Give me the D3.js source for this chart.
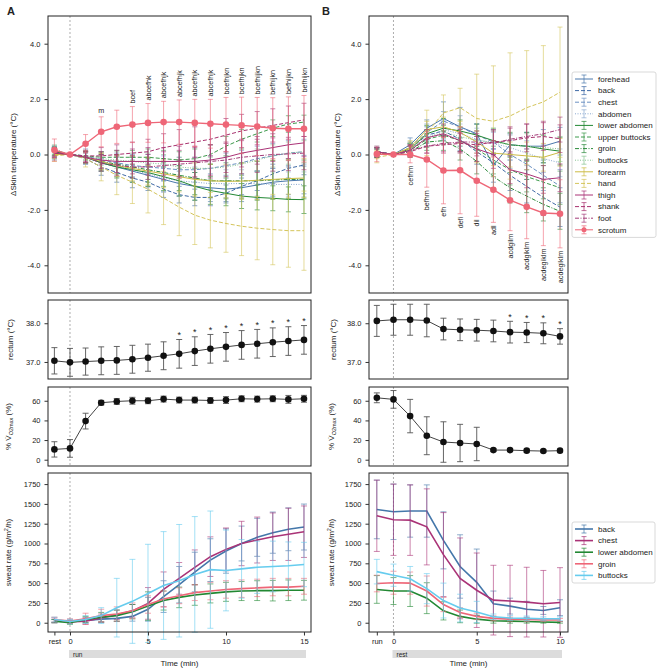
<!DOCTYPE html>
<html>
<head>
<meta charset="utf-8">
<script src="https://cdn.jsdelivr.net/npm/d3@7"></script>
<style>
  body { margin: 0; background: #fff; }
  svg text { font-family: "Liberation Sans", Arial, sans-serif; fill: #222; }
</style>
</head>
<body>
<svg id="fig" width="661" height="670"></svg>
<script>
// ---------- data ----------
const timesA = [-1, 0, 1, 2, 3, 4, 5, 6, 7, 8, 9, 10, 11, 12, 13, 14, 15];
const timesB = [-1, 0, 1, 2, 3, 4, 5, 6, 7, 8, 9, 10];
const tickValsA = [-1, 0, 5, 10, 15];
const tickLabelsA = ["rest", "0", "5", "10", "15"];
const tickValsB = [-1, 0, 5, 10];
const tickLabelsB = ["run", "0", "5", "10"];

const siteNames = ["forehead", "back", "chest", "abdomen", "lower abdomen", "upper buttocks",
  "groin", "buttocks", "forearm", "hand", "thigh", "shank", "foot", "scrotum"];

// skin temperature change (°C), panel A (rest, 0..15 min of running)
const skinMeanA = [
  [0.05, 0, -0.1, -0.3, -0.45, -0.6, -0.75, -0.9, -1.05, -1.15, -1.2, -1.25, -1.2, -1.1, -1.0, -0.95, -0.92],
  [0.05, 0, -0.15, -0.45, -0.65, -0.85, -1.0, -1.25, -1.45, -1.55, -1.55, -1.4, -1.15, -0.95, -0.7, -0.5, -0.38],
  [0.1, 0, -0.05, -0.2, -0.3, -0.4, -0.45, -0.5, -0.55, -0.55, -0.5, -0.4, -0.3, -0.15, -0.05, 0.05, 0.1],
  [0.05, 0, -0.1, -0.25, -0.4, -0.55, -0.7, -0.85, -0.95, -1.0, -1.05, -1.05, -1.05, -1.05, -1.08, -1.08, -1.08],
  [0.1, 0, -0.1, -0.3, -0.45, -0.55, -0.65, -0.8, -0.95, -1.15, -1.3, -1.4, -1.5, -1.55, -1.58, -1.62, -1.63],
  [0.15, 0, -0.05, -0.1, -0.1, -0.1, -0.1, -0.15, -0.2, -0.15, 0.0, 0.3, 0.55, 0.75, 0.95, 1.1, 1.17],
  [0.1, 0, -0.1, -0.25, -0.35, -0.45, -0.55, -0.65, -0.75, -0.85, -0.95, -0.95, -0.95, -0.95, -0.92, -0.9, -0.9],
  [0.2, 0, -0.05, -0.15, -0.2, -0.25, -0.3, -0.35, -0.45, -0.5, -0.5, -0.45, -0.35, -0.2, -0.05, 0.05, 0.1],
  [0.0, 0, -0.1, -0.25, -0.4, -0.5, -0.6, -0.7, -0.8, -0.9, -0.95, -0.97, -0.96, -0.93, -0.9, -0.87, -0.85],
  [-0.05, 0, -0.15, -0.45, -0.75, -1.0, -1.25, -1.57, -1.9, -2.19, -2.37, -2.49, -2.59, -2.66, -2.71, -2.75, -2.75],
  [0.05, 0, -0.1, -0.2, -0.25, -0.25, -0.25, -0.25, -0.25, -0.25, -0.2, -0.1, 0.05, 0.15, 0.25, 0.35, 0.42],
  [0.05, 0, -0.05, -0.05, 0.0, 0.05, 0.1, 0.25, 0.35, 0.45, 0.55, 0.7, 0.85, 0.95, 1.05, 1.15, 1.25],
  [0.1, 0, -0.1, -0.3, -0.4, -0.45, -0.45, -0.4, -0.35, -0.3, -0.25, -0.2, -0.1, -0.05, 0.0, 0.02, 0.05],
  [0.16, 0, 0.39, 0.82, 1.0, 1.08, 1.14, 1.17, 1.17, 1.14, 1.11, 1.08, 1.05, 1.01, 0.95, 0.93, 0.93]
];
const skinSdA = [
  [0.25, 0, 0.2, 0.3, 0.35, 0.4, 0.4, 0.45, 0.45, 0.5, 0.5, 0.5, 0.5, 0.5, 0.5, 0.5, 0.5],
  [0.2, 0, 0.2, 0.3, 0.35, 0.35, 0.3, 0.3, 0.3, 0.3, 0.3, 0.3, 0.3, 0.35, 0.35, 0.35, 0.35],
  [0.2, 0, 0.25, 0.3, 0.35, 0.4, 0.45, 0.45, 0.45, 0.45, 0.45, 0.45, 0.45, 0.45, 0.45, 0.45, 0.45],
  [0.2, 0, 0.25, 0.35, 0.4, 0.45, 0.5, 0.5, 0.55, 0.55, 0.55, 0.5, 0.5, 0.45, 0.45, 0.45, 0.45],
  [0.15, 0, 0.2, 0.3, 0.4, 0.45, 0.5, 0.5, 0.55, 0.5, 0.5, 0.45, 0.45, 0.45, 0.45, 0.45, 0.5],
  [0.15, 0, 0.15, 0.2, 0.25, 0.25, 0.3, 0.3, 0.3, 0.35, 0.35, 0.35, 0.35, 0.3, 0.3, 0.3, 0.25],
  [0.15, 0, 0.2, 0.3, 0.35, 0.4, 0.45, 0.5, 0.55, 0.6, 0.6, 0.65, 0.65, 0.7, 0.7, 0.7, 0.7],
  [0.15, 0, 0.15, 0.25, 0.3, 0.3, 0.35, 0.35, 0.35, 0.35, 0.4, 0.4, 0.4, 0.4, 0.4, 0.4, 0.4],
  [0.15, 0, 0.2, 0.3, 0.4, 0.45, 0.5, 0.5, 0.55, 0.6, 0.6, 0.6, 0.65, 0.7, 0.7, 0.7, 0.7],
  [0.2, 0, 0.3, 0.5, 0.7, 0.77, 0.86, 0.96, 1.03, 1.06, 1.0, 1.04, 1.06, 1.14, 1.27, 1.32, 1.43],
  [0.15, 0, 0.2, 0.3, 0.4, 0.45, 0.5, 0.5, 0.55, 0.55, 0.55, 0.55, 0.5, 0.5, 0.5, 0.5, 0.5],
  [0.15, 0, 0.2, 0.3, 0.35, 0.4, 0.45, 0.5, 0.55, 0.55, 0.6, 0.6, 0.6, 0.6, 0.6, 0.6, 0.6],
  [0.15, 0, 0.2, 0.3, 0.35, 0.4, 0.45, 0.5, 0.5, 0.55, 0.6, 0.6, 0.6, 0.6, 0.6, 0.6, 0.6],
  [0.4, 0, 0.33, 0.54, 0.6, 0.65, 0.7, 0.75, 0.8, 0.85, 0.88, 0.98, 1.02, 1.05, 1.1, 1.15, 1.2]
];
const sigLabelsA = ["", "", "", "m", "", "bcef", "abcefhk", "abcefhjk", "abcefhjk", "abcefhjk",
  "abcefhjk", "bcefhjkn", "bcefhjkn", "bcefhijkn", "befhijkn", "befhijkn", "befhijkn"];

// skin temperature change (°C), panel B (end of run, 0..10 min of rest)
const skinMeanB = [
  [0.1, 0, 0.35, 0.95, 1.3, 1.0, 0.75, -0.4, 0.35, 0.3, 0.3, 0.48],
  [0.1, 0, 0.2, 0.7, 0.85, 0.55, 0.1, -0.3, -0.75, -1.15, -1.55, -1.9],
  [0.1, 0, 0.25, 0.8, 1.2, 1.0, 0.7, 0.45, 0.0, -0.35, -0.75, -1.14],
  [0.05, 0, 0.2, 0.6, 0.9, 0.75, 0.55, 0.4, 0.25, 0.05, -0.15, -0.3],
  [0.1, 0, 0.2, 0.75, 0.95, 0.85, 0.7, 0.5, 0.35, 0.3, 0.2, 0.12],
  [0.05, 0, 0.15, 0.55, 0.7, 0.5, 0.2, -0.2, -0.55, -0.8, -1.0, -1.2],
  [0.05, 0, 0.1, 0.45, 0.5, 0.2, -0.25, -0.8, -1.2, -1.5, -1.8, -2.05],
  [0.1, 0, 0.2, 0.6, 0.8, 0.65, 0.5, 0.45, 0.35, 0.3, 0.25, 0.2],
  [0.0, 0, 0.25, 0.9, 1.0, 0.8, 0.45, 0.05, 0.0, -0.05, -0.1, 0.08],
  [-0.1, 0, 0.2, 0.78, 1.5, 1.69, 1.3, 1.2, 1.39, 1.69, 1.9, 2.25],
  [0.1, 0, 0.15, 0.6, 0.75, 0.5, 0.2, 0.0, -0.55, -0.7, -0.9, -0.84],
  [0.05, 0, 0.1, 0.3, 0.35, 0.4, 0.35, 0.45, 0.5, 0.6, 0.65, 0.57],
  [0.1, 0, 0.15, 0.3, 0.4, 0.45, 0.45, 0.4, 0.55, 0.65, 0.75, 0.9],
  [0.02, 0, 0, -0.18, -0.58, -0.57, -0.95, -1.27, -1.65, -1.89, -2.11, -2.14]
];
const skinSdB = [
  [0.2, 0, 0.25, 0.3, 0.6, 0.7, 0.35, 0.6, 0.4, 0.5, 0.6, 0.5],
  [0.15, 0, 0.2, 0.3, 0.35, 0.4, 0.45, 0.5, 0.55, 0.6, 0.65, 0.7],
  [0.15, 0, 0.2, 0.3, 0.35, 0.4, 0.4, 0.45, 0.5, 0.55, 0.55, 0.6],
  [0.15, 0, 0.2, 0.3, 0.35, 0.35, 0.4, 0.4, 0.45, 0.45, 0.5, 0.5],
  [0.15, 0, 0.2, 0.3, 0.35, 0.4, 0.4, 0.45, 0.45, 0.5, 0.5, 0.5],
  [0.15, 0, 0.2, 0.3, 0.35, 0.4, 0.45, 0.5, 0.55, 0.55, 0.6, 0.6],
  [0.15, 0, 0.2, 0.3, 0.35, 0.4, 0.45, 0.5, 0.55, 0.6, 0.6, 0.65],
  [0.15, 0, 0.2, 0.3, 0.3, 0.35, 0.35, 0.4, 0.4, 0.45, 0.45, 0.45],
  [0.15, 0, 0.2, 0.3, 0.35, 0.4, 0.4, 0.45, 0.45, 0.5, 0.5, 0.5],
  [0.2, 0, 0.3, 0.82, 0.65, 0.7, 1.6, 2.0, 2.28, 2.06, 2.03, 2.35],
  [0.15, 0, 0.2, 0.3, 0.35, 0.4, 0.45, 0.5, 0.5, 0.5, 0.5, 0.5],
  [0.15, 0, 0.2, 0.25, 0.3, 0.35, 0.4, 0.45, 0.45, 0.5, 0.5, 0.5],
  [0.15, 0, 0.2, 0.25, 0.3, 0.35, 0.4, 0.45, 0.45, 0.45, 0.45, 0.45],
  [0.28, 0, 0.3, 1.0, 1.2, 1.57, 1.28, 1.18, 1.1, 1.15, 1.18, 1.23]
];
const sigLabelsB = ["", "", "cefhm", "befhm", "efh", "defi", "dil", "adl", "acdgilm",
  "acdgiklm", "acdegiklm", "acdegiklm"];

// rectal temperature (°C)
const rectMeanA = [37.03, 36.99, 37.01, 37.03, 37.04, 37.07, 37.11, 37.16, 37.21, 37.28, 37.34, 37.39, 37.44, 37.47, 37.51, 37.54, 37.57];
const rectSdA = [0.34, 0.36, 0.35, 0.36, 0.36, 0.36, 0.35, 0.36, 0.37, 0.37, 0.37, 0.37, 0.37, 0.37, 0.37, 0.37, 0.37];
const rectStarsA = [7, 8, 9, 10, 11, 12, 13, 14, 15];
const rectMeanB = [38.06, 38.09, 38.09, 38.07, 37.85, 37.83, 37.82, 37.8, 37.77, 37.76, 37.74, 37.66];
const rectSdB = [0.4, 0.4, 0.4, 0.42, 0.28, 0.28, 0.28, 0.28, 0.28, 0.26, 0.27, 0.2];
const rectStarsB = [7, 8, 9, 10];

// relative oxygen uptake (%VO2max)
const vo2MeanA = [10.5, 11.5, 39.3, 58, 59.3, 60, 60, 61.7, 60.7, 60.7, 60.3, 60.7, 62, 61.7, 62, 61.4, 62];
const vo2SdA = [7.8, 9, 8, 2.4, 3, 3.5, 3, 3, 3, 3, 3, 3.5, 3, 3, 3, 4, 3.5];
const vo2MeanB = [63, 61.4, 44.4, 24.4, 18, 17, 16, 9.8, 9.8, 9.2, 8.8, 9.2];
const vo2SdB = [5, 9, 17, 19.3, 20.6, 19, 17, 1.5, 1.5, 1.5, 1.2, 1.2];

// local sweat rate (g/m2/h)
const sweatSites = ["back", "chest", "lower abdomen", "groin", "buttocks"];
const sweatMeanA = [
  [20, 15, 30, 45, 55, 80, 170, 330, 480, 640, 790, 905, 1000, 1078, 1137, 1179, 1208],
  [30, 10, 20, 60, 100, 150, 244, 421, 560, 699, 834, 926, 1000, 1044, 1086, 1116, 1149],
  [20, 0, 40, 70, 90, 140, 210, 280, 320, 350, 370, 390, 400, 405, 405, 410, 410],
  [40, 20, 50, 90, 110, 150, 230, 300, 340, 380, 400, 420, 430, 440, 450, 450, 460],
  [40, 15, 40, 90, 190, 270, 370, 470, 530, 610, 670, 660, 680, 700, 710, 720, 735]
];
const sweatSdA = [
  [20, 20, 30, 40, 40, 60, 150, 200, 230, 250, 270, 280, 220, 240, 260, 270, 290],
  [30, 20, 40, 50, 60, 80, 200, 220, 200, 220, 250, 270, 280, 290, 300, 330, 325],
  [20, 20, 40, 60, 70, 90, 180, 120, 130, 130, 120, 120, 120, 125, 130, 130, 125],
  [30, 30, 70, 80, 90, 100, 110, 100, 100, 100, 110, 110, 110, 110, 110, 110, 100],
  [30, 30, 50, 100, 370, 530, 620, 680, 710, 730, 740, 510, 370, 330, 320, 300, 280]
];
const sweatMeanB = [
  [1430, 1400, 1410, 1410, 1040, 710, 510, 240, 210, 170, 155, 190],
  [1350, 1300, 1295, 1210, 860, 560, 410, 285, 275, 260, 240, 255],
  [420, 400, 400, 310, 150, 80, 45, 25, 20, 15, 10, 5],
  [495, 505, 500, 400, 230, 130, 80, 55, 45, 40, 35, 35],
  [645, 600, 555, 430, 280, 185, 135, 75, 60, 55, 50, 50]
];
const sweatSdB = [
  [370, 350, 330, 330, 360, 400, 420, 160, 100, 100, 50, 100],
  [450, 450, 445, 480, 530, 510, 470, 440, 450, 440, 420, 440],
  [175, 170, 195, 195, 115, 80, 50, 30, 25, 20, 15, 10],
  [105, 145, 140, 190, 90, 60, 40, 30, 25, 25, 20, 20],
  [155, 140, 155, 190, 220, 175, 135, 35, 30, 30, 25, 25]
];

// ---------- styles ----------
const siteColors = ["#4a78ad", "#3f6aa6", "#6a90c2", "#8aa9d0", "#228833", "#3d9a4c", "#2a8a3a", "#86c290",
  "#ccbb44", "#d4c45a", "#aa3377", "#a8326f", "#a33a78", "#ee6677"];
const siteDash = [null, "4,2", "4,2", "1,1.5", null, "4,2", "4,1.5,1,1.5", "1,1.5",
  null, "4,2", null, "4,2", "4,1.5,1,1.5", null];
const sweatColors = ["#4477aa", "#aa3377", "#228833", "#ee6677", "#66ccee"];

// ---------- layout ----------
const FONT = "Liberation Sans, Arial, sans-serif";
const svg = d3.select("#fig");

const xA = d3.scaleLinear().domain([-1.41, 15.45]).range([48, 311]);
const xB = d3.scaleLinear().domain([-1.47, 10.48]).range([369, 568]);
const ySkin = d3.scaleLinear().domain([-5, 5]).range([293, 16]);
const yRect = d3.scaleLinear().domain([36.56, 38.6]).range([379, 300]);
const yVo2 = d3.scaleLinear().domain([-6.4, 74]).range([466, 387]);
const ySweat = d3.scaleLinear().domain([-117, 1890]).range([632, 473]);

// ---------- helpers ----------
function zeroLine(x, y) {
  svg.append("line")
    .attr("x1", x(0)).attr("x2", x(0))
    .attr("y1", y.range()[1]).attr("y2", y.range()[0])
    .attr("stroke", "#999").attr("stroke-width", 0.8)
    .attr("stroke-dasharray", "2,2");
}

function frame(x, y) {
  svg.append("rect")
    .attr("x", x.range()[0]).attr("y", y.range()[1])
    .attr("width", x.range()[1] - x.range()[0])
    .attr("height", y.range()[0] - y.range()[1])
    .attr("fill", "none").attr("stroke", "#222").attr("stroke-width", 1);
}

function leftAxis(x, y, ticks, fmt) {
  const g = svg.append("g")
    .attr("transform", `translate(${ x.range()[0] },0)`)
    .call(d3.axisLeft(y).tickValues(ticks).tickFormat(fmt).tickSize(3.5).tickPadding(4));
  g.attr("font-size", 7.5).attr("font-family", FONT);
  g.select(".domain").remove();
  g.selectAll("line").attr("stroke", "#333");
}

function bottomAxis(x, y, vals, labels, barLabel) {
  const y0 = y.range()[0];
  const g = svg.append("g")
    .attr("transform", `translate(0,${ y0 })`)
    .call(d3.axisBottom(x).tickValues(vals).tickFormat((d, i) => labels[i]).tickSize(3.5).tickPadding(3));
  g.attr("font-size", 7.5).attr("font-family", FONT);
  g.select(".domain").remove();
  g.selectAll("line").attr("stroke", "#333");

  // grey phase bar under the axis
  const last = vals[vals.length - 1];
  svg.append("rect")
    .attr("x", x(0) - 1).attr("y", 650)
    .attr("width", x(last) - x(0) + 3).attr("height", 8)
    .attr("fill", "#dcdcdc");
  svg.append("text")
    .attr("x", x(0) + 3).attr("y", 656.5)
    .attr("font-size", 6.5)
    .text(barLabel);
  svg.append("text")
    .attr("x", (x.range()[0] + x.range()[1]) / 2).attr("y", 666)
    .attr("text-anchor", "middle").attr("font-size", 8)
    .text("Time (min)");
}

function yLabel(cx, y, build) {
  const t = svg.append("text")
    .attr("transform", `translate(${ cx + 3 },${ (y.range()[0] + y.range()[1]) / 2 }) rotate(-90)`)
    .attr("text-anchor", "middle").attr("font-size", 8);
  build(t);
}

function drawSeries(x, y, times, mean, sd, opt) {
  const pts = times.map((t, i) => ({ t: t, m: mean[i], s: sd[i] }));
  const bars = pts.filter(d => d.s > 0);
  const g = svg.append("g");
  const eb = g.append("g")
    .attr("stroke", opt.barColor || opt.color)
    .attr("stroke-opacity", opt.barOpacity)
    .attr("stroke-width", 1);
  eb.selectAll("line.v").data(bars).join("line").attr("class", "v")
    .attr("x1", d => x(d.t)).attr("x2", d => x(d.t))
    .attr("y1", d => y(d.m - d.s)).attr("y2", d => y(d.m + d.s));
  eb.selectAll("line.top").data(bars).join("line").attr("class", "top")
    .attr("x1", d => x(d.t) - opt.cap).attr("x2", d => x(d.t) + opt.cap)
    .attr("y1", d => y(d.m + d.s)).attr("y2", d => y(d.m + d.s));
  eb.selectAll("line.bot").data(bars).join("line").attr("class", "bot")
    .attr("x1", d => x(d.t) - opt.cap).attr("x2", d => x(d.t) + opt.cap)
    .attr("y1", d => y(d.m - d.s)).attr("y2", d => y(d.m - d.s));

  g.append("path").datum(pts)
    .attr("fill", "none")
    .attr("stroke", opt.color)
    .attr("stroke-width", opt.width)
    .attr("stroke-dasharray", opt.dash)
    .attr("d", d3.line().x(d => x(d.t)).y(d => y(d.m)));

  if (opt.r) {
    g.selectAll("circle").data(pts).join("circle")
      .attr("cx", d => x(d.t)).attr("cy", d => y(d.m))
      .attr("r", opt.r).attr("fill", opt.color);
  }
}

function legend(x0, y0, w, names, colors, dashes, markerIdx, lw) {
  const step = 11.6;
  svg.append("rect")
    .attr("x", x0).attr("y", y0)
    .attr("width", w).attr("height", names.length * step + 3)
    .attr("rx", 2)
    .attr("fill", "#fff").attr("stroke", "#cfcfcf").attr("stroke-width", 0.8);
  names.forEach((n, i) => {
    const yy = y0 + 7 + i * step;
    const cx = x0 + 12;
    svg.append("line")
      .attr("x1", x0 + 3).attr("x2", x0 + 21).attr("y1", yy).attr("y2", yy)
      .attr("stroke", colors[i]).attr("stroke-width", lw)
      .attr("stroke-dasharray", dashes ? dashes[i] : null);
    const eb = svg.append("g").attr("stroke", colors[i]).attr("stroke-opacity", 0.7);
    eb.append("line").attr("x1", cx).attr("x2", cx).attr("y1", yy - 4).attr("y2", yy + 4);
    eb.append("line").attr("x1", cx - 2.5).attr("x2", cx + 2.5).attr("y1", yy - 4).attr("y2", yy - 4);
    eb.append("line").attr("x1", cx - 2.5).attr("x2", cx + 2.5).attr("y1", yy + 4).attr("y2", yy + 4);
    if (i === markerIdx) {
      svg.append("circle").attr("cx", cx).attr("cy", yy).attr("r", 2.5).attr("fill", colors[i]);
    }
    svg.append("text")
      .attr("x", x0 + 26).attr("y", yy + 2.8)
      .attr("font-size", 8)
      .text(n);
  });
}

const fmt1 = d => d.toFixed(1);
const scrotum = siteNames.length - 1;

// ---------- skin temperature panels ----------
[[xA, timesA, skinMeanA, skinSdA], [xB, timesB, skinMeanB, skinSdB]].forEach(([x, times, mean, sd]) => {
  zeroLine(x, ySkin);
  siteNames.forEach((name, i) => {
    drawSeries(x, ySkin, times, mean[i], sd[i], {
      color: siteColors[i], dash: siteDash[i], width: i === scrotum ? 1.4 : 1,
      barOpacity: 0.6, cap: 2.5, r: i === scrotum ? 3.3 : 0
    });
  });
  frame(x, ySkin);
  leftAxis(x, ySkin, [-4, -2, 0, 2, 4], fmt1);
});

// significance letters above (A) / below (B) the scrotum series
timesA.forEach((t, i) => {
  const lab = sigLabelsA[i];
  if (!lab) return;
  const top = ySkin(skinMeanA[scrotum][i] + skinSdA[scrotum][i]) - 3;
  if (lab.length === 1) {
    svg.append("text").attr("x", xA(t)).attr("y", top - 1)
      .attr("text-anchor", "middle").attr("font-size", 7.2).text(lab);
  } else {
    svg.append("text")
      .attr("transform", `translate(${ xA(t) + 2.6 },${ top }) rotate(-90)`)
      .attr("font-size", 7.2).text(lab);
  }
});
timesB.forEach((t, i) => {
  const lab = sigLabelsB[i];
  if (!lab) return;
  const bot = ySkin(skinMeanB[scrotum][i] - skinSdB[scrotum][i]) + 3;
  svg.append("text")
    .attr("transform", `translate(${ xB(t) + 2.6 },${ bot }) rotate(-90)`)
    .attr("text-anchor", "end").attr("font-size", 7.2).text(lab);
});

legend(572, 72, 84, siteNames, siteColors, siteDash, scrotum, 1);

// ---------- rectal temperature ----------
[[xA, timesA, rectMeanA, rectSdA, rectStarsA], [xB, timesB, rectMeanB, rectSdB, rectStarsB]].forEach(([x, times, mean, sd, stars]) => {
  zeroLine(x, yRect);
  drawSeries(x, yRect, times, mean, sd, {
    color: "#111", barColor: "#555", width: 0.8, barOpacity: 0.9, cap: 3, r: 3.3
  });
  stars.forEach(t => {
    const i = times.indexOf(t);
    svg.append("text")
      .attr("x", x(t)).attr("y", yRect(mean[i] + sd[i]) - 1.5)
      .attr("text-anchor", "middle").attr("font-size", 9)
      .text("*");
  });
  frame(x, yRect);
  leftAxis(x, yRect, [37, 38], fmt1);
});

// ---------- %VO2max ----------
[[xA, timesA, vo2MeanA, vo2SdA], [xB, timesB, vo2MeanB, vo2SdB]].forEach(([x, times, mean, sd]) => {
  zeroLine(x, yVo2);
  drawSeries(x, yVo2, times, mean, sd, {
    color: "#111", barColor: "#555", width: 0.8, barOpacity: 0.9, cap: 3, r: 3.3
  });
  frame(x, yVo2);
  leftAxis(x, yVo2, [0, 20, 40, 60], d3.format("d"));
});

// ---------- sweat rate ----------
[[xA, timesA, sweatMeanA, sweatSdA], [xB, timesB, sweatMeanB, sweatSdB]].forEach(([x, times, mean, sd]) => {
  zeroLine(x, ySweat);
  sweatSites.forEach((name, i) => {
    drawSeries(x, ySweat, times, mean[i], sd[i], {
      color: sweatColors[i], width: 1.6, barOpacity: 0.6, cap: 3, r: 0
    });
  });
  frame(x, ySweat);
  leftAxis(x, ySweat, [0, 250, 500, 750, 1000, 1250, 1500, 1750], d3.format("d"));
});
bottomAxis(xA, ySweat, tickValsA, tickLabelsA, "run");
bottomAxis(xB, ySweat, tickValsB, tickLabelsB, "rest");
legend(572, 522, 83, sweatSites, sweatColors, null, -1, 1.6);

// ---------- axis titles ----------
[13, 337].forEach(cx => {
  yLabel(cx, ySkin, t => t.text("ΔSkin temperature (°C)"));
});
[10, 333].forEach(cx => {
  yLabel(cx, yRect, t => t.text("rectum (°C)"));
});
[8, 331].forEach(cx => {
  yLabel(cx, yVo2, t => {
    t.append("tspan").text("% V\u0307");
    t.append("tspan").attr("dy", 1.8).attr("font-size", 5.5).text("O2max");
    t.append("tspan").attr("dy", -1.8).text(" (%)");
  });
  yLabel(cx, ySweat, t => {
    t.append("tspan").text("sweat rate (g/m");
    t.append("tspan").attr("dy", -3).attr("font-size", 5.5).text("2");
    t.append("tspan").attr("dy", 3).text("/h)");
  });
});

// panel letters
svg.append("text").attr("x", 7).attr("y", 15).attr("font-size", 11).attr("font-weight", "bold").text("A");
svg.append("text").attr("x", 322).attr("y", 15).attr("font-size", 11).attr("font-weight", "bold").text("B");
</script>
</body>
</html>
